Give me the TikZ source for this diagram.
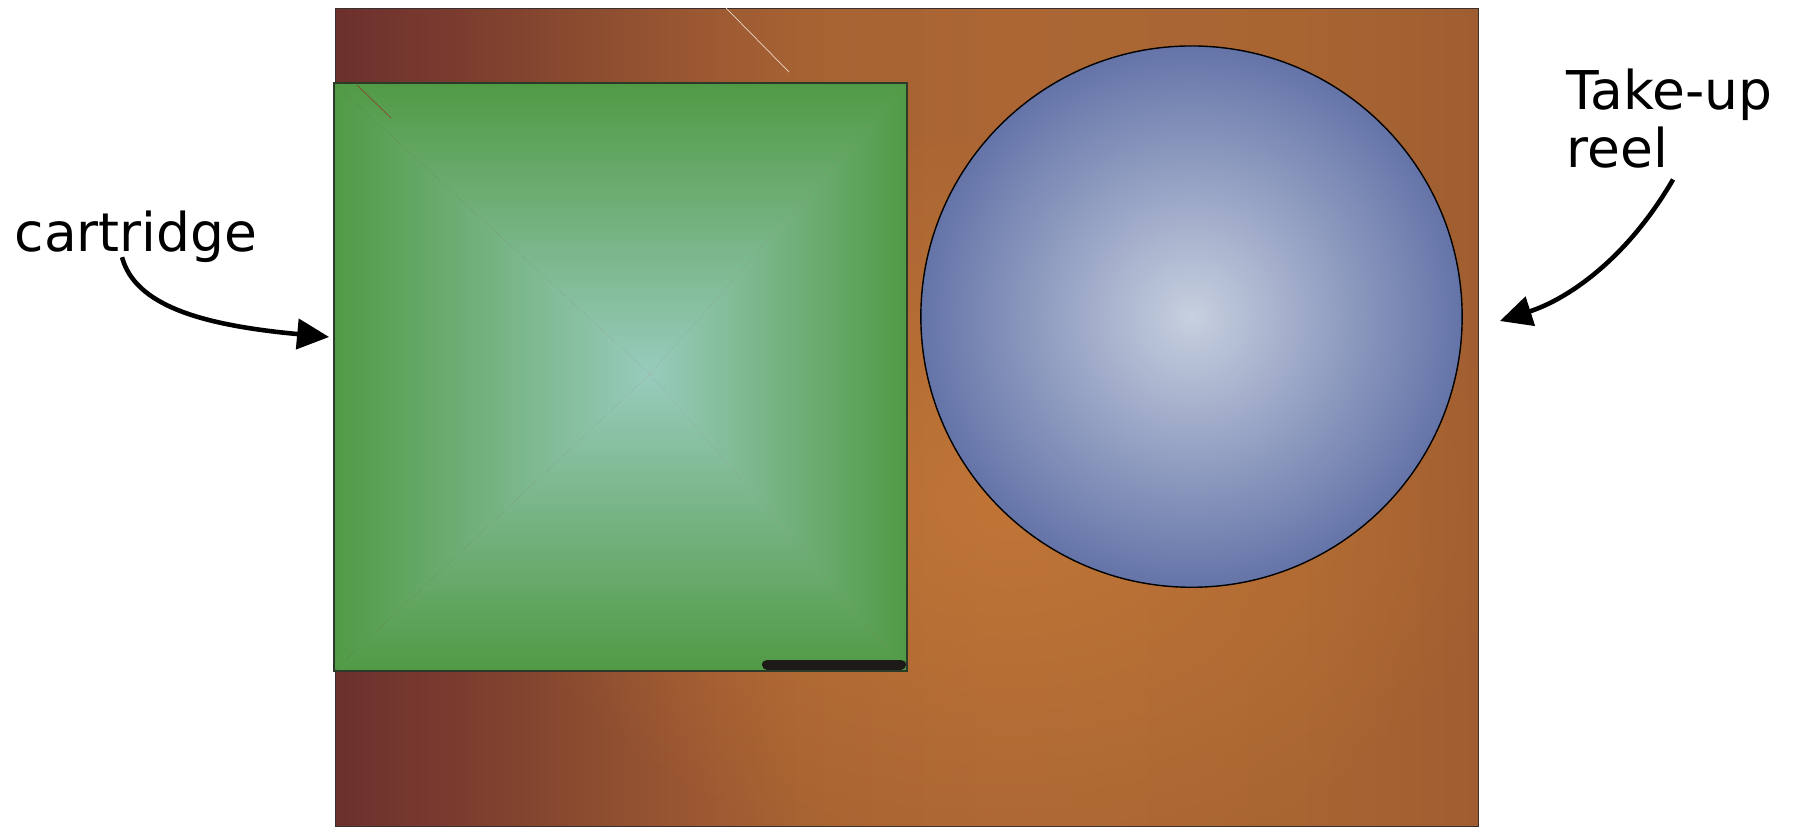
\documentclass[tikz,border=0pt]{standalone}
\usepackage{fontspec}
\setmainfont{DejaVu Sans}
\usetikzlibrary{arrows.meta, fadings}

\definecolor{bgA}{HTML}{6C302D}
\definecolor{bgB}{HTML}{7A3B2F}
\definecolor{bgC}{HTML}{87492F}
\definecolor{bgD}{HTML}{9C5832}
\definecolor{bgE}{HTML}{A66232}
\definecolor{bgF}{HTML}{AB6634}
\definecolor{bgG}{HTML}{A86532}
\definecolor{bgH}{HTML}{A05D31}
\definecolor{deckglow}{HTML}{CC7E38}
\definecolor{deckline}{HTML}{3A3030}
\definecolor{cartedge}{HTML}{519A45}
\definecolor{cartmid}{HTML}{98CBBD}
\definecolor{cartline}{HTML}{2C3A2A}
\definecolor{tapebar}{HTML}{1E1A17}
\definecolor{reeledge}{HTML}{6474A8}
\definecolor{reelmid}{HTML}{C7D0DF}

\pgfdeclarehorizontalshading{bgshade}{100bp}{color(0bp)=(bgA); color(25bp)=(bgA);
  color(30bp)=(bgB); color(34.8bp)=(bgC); color(41bp)=(bgD); color(45.3bp)=(bgE);
  color(54bp)=(bgF); color(67bp)=(bgG); color(75bp)=(bgH); color(100bp)=(bgH)}
\tikzfading[name=glowfade, inner color=transparent!35, outer color=transparent!100]

\tikzset{
  lbl/.style={font=\fontsize{15.2}{16.4}\selectfont, inner sep=0pt},
  callout/.style={line width=1.3pt, -{Triangle[length=0.32cm, width=0.30cm]}},
}

\begin{document}
\begin{tikzpicture}[x=0.01cm, y=-0.01cm]
\useasboundingbox (0,0) rectangle (1805,826);
% deck
\draw[very thin, draw=deckline, shading=bgshade] (335,8) rectangle (1478,826);
\begin{scope}
  \clip (335,8) rectangle (1478,826);
  \fill[deckglow, path fading=glowfade] (1010,500) ellipse [x radius=5.2cm, y radius=3.8cm];
\end{scope}
\draw[white!75!bgE, very thin] (726,8) -- (789,72);

% cartridge
\node[minimum width=5.71cm, minimum height=5.86cm, inner sep=0pt] (cart) at (620.5,377) {};
\coordinate (hub) at (650,374);
\shade[left color=cartedge, right color=cartmid] (cart.north west) -- (hub) -- (cart.south west) -- cycle;
\shade[left color=cartmid, right color=cartedge] (cart.north east) -- (hub) -- (cart.south east) -- cycle;
\shade[top color=cartedge, bottom color=cartmid] (cart.north west) -- (hub) -- (cart.north east) -- cycle;
\shade[top color=cartmid, bottom color=cartedge] (cart.south west) -- (hub) -- (cart.south east) -- cycle;
\draw[cartline, line width=0.6pt] (cart.north west) rectangle (cart.south east);
\draw[bgC, very thin] (357,85) -- (391,118);
\draw[tapebar, line width=0.1cm, line cap=round] (767,664.5) -- (901,664.5);

% reel
\node[circle, draw=black, thin, inner color=reelmid, outer color=reeledge, minimum size=5.41cm] (reel) at (1191.5,316.6) {};

% labels
\node[lbl, anchor=base west] (cartlabel) at (14,251) {cartridge};
\node[lbl, anchor=base west, align=left] (reellabel) at (1566,167) {Take-up\\reel};
\draw[callout] ([xshift=-0.14cm, yshift=0.056cm]cartlabel.south) .. controls (135,305) and (200,325) .. ([xshift=-0.05cm, yshift=0.4cm]cart.west);
\draw[callout] ([xshift=1.07cm, yshift=-0.11cm]reellabel.south west) .. controls (1625,262) and (1565,300) .. ([xshift=0.37cm, yshift=-0.044cm]reel.east);
\end{tikzpicture}
\end{document}
